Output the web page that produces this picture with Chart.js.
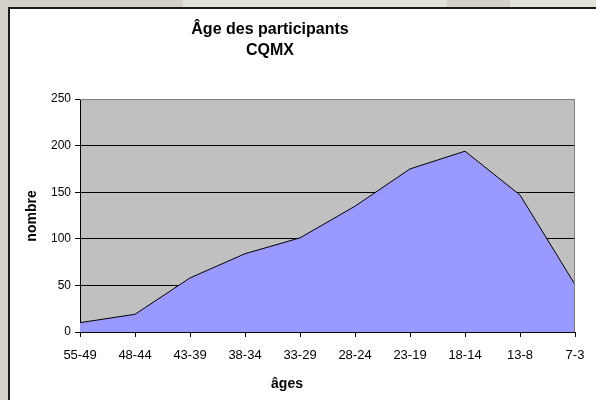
<!DOCTYPE html>
<html>
<head>
<meta charset="utf-8">
<script src="https://cdn.jsdelivr.net/npm/chart.js@4"></script>
<style>
  html, body { margin: 0; padding: 0; }
  body { width: 596px; height: 400px; background: #d4d0c8; position: relative; overflow: hidden; }
  .strip { position: absolute; top: 0; height: 7px; background: #e2e1da; }
  #box { position: absolute; left: 8px; top: 7px; width: 700px; height: 500px; background: #fff;
         border-left: 2px solid #1a1a1a; border-top: 2px solid #1a1a1a; }
  #wrap { position: absolute; left: 0; top: 0; width: 596px; height: 400px; }
</style>
</head>
<body>
<div class="strip" style="left:183px;width:264px"></div>
<div class="strip" style="left:510px;width:86px"></div>
<div id="box"></div>
<div id="wrap"><canvas id="age-chart" width="596" height="400"></canvas></div>
<script>
const categories = ["55-49", "48-44", "43-39", "38-34", "33-29", "28-24", "23-19", "18-14", "13-8", "7-3"];
const participants = [10, 19, 58, 84, 101, 135, 175, 194, 147, 51];
const yTicks = [0, 50, 100, 150, 200, 250];
const titleLines = ["Âge des participants", "CQMX"];

const font = "'Liberation Sans', Arial, sans-serif";

// fond gris de la zone de tracé + titres
const plotBg = {
  id: "plotBg",
  beforeDraw(c) {
    const { ctx, chartArea: a } = c;
    ctx.save();
    ctx.fillStyle = "#c0c0c0";
    ctx.fillRect(a.left, a.top, a.right - a.left, a.bottom - a.top);
    ctx.restore();
  },
  afterDraw(c) {
    const { ctx, chartArea: a } = c;
    ctx.save();
    ctx.strokeStyle = "#808080";
    ctx.lineWidth = 1;
    ctx.beginPath();
    ctx.moveTo(a.left, a.top + 0.5);
    ctx.lineTo(a.right - 0.5, a.top + 0.5);
    ctx.lineTo(a.right - 0.5, a.bottom);
    ctx.stroke();
    ctx.fillStyle = "#000";
    ctx.textAlign = "center";
    ctx.textBaseline = "middle";
    ctx.font = "bold 16px " + font;
    ctx.fillText(titleLines[0], 270, 30);
    ctx.fillText(titleLines[1], 270, 51);
    ctx.font = "bold 14px " + font;
    ctx.fillText("âges", 287, 384);
    ctx.translate(32, 216);
    ctx.rotate(-Math.PI / 2);
    ctx.fillText("nombre", 0, 0);
    ctx.restore();
  },
};

new Chart(document.getElementById("age-chart"), {
  type: "line",
  data: {
    labels: categories,
    datasets: [
      {
        label: "nombre",
        data: participants,
        fill: "origin",
        backgroundColor: "#9999ff",
        borderColor: "#000",
        borderWidth: 1,
        pointRadius: 0,
        tension: 0,
      },
    ],
  },
  options: {
    responsive: false,
    animation: false,
    devicePixelRatio: 1,
    layout: { padding: { top: 99, right: 21, left: 0, bottom: 0 } },
    plugins: {
      legend: { display: false },
      tooltip: { enabled: false },
    },
    scales: {
      x: {
        offset: false,
        afterFit: (s) => { s.height = 68; },
        grid: { drawOnChartArea: false, drawTicks: true, tickLength: 5, color: "#000" },
        border: { display: true, color: "#000" },
        ticks: { color: "#000", font: { family: font, size: 13 }, padding: 11, maxRotation: 0, autoSkip: false },
      },
      y: {
        min: 0,
        max: 250,
        afterFit: (s) => { s.width = 80; },
        afterBuildTicks: (s) => { s.ticks = yTicks.map((v) => ({ value: v })); },
        grid: {
          color: (ctx) => (ctx.tick && ctx.tick.value === 250 ? "rgba(0,0,0,0)" : "#000"),
          tickColor: "#000",
          tickLength: 5,
        },
        border: { display: true, color: "#000" },
        ticks: { color: "#000", font: { family: font, size: 12 }, padding: 4 },
      },
    },
  },
  plugins: [plotBg],
});
</script>
</body>
</html>
